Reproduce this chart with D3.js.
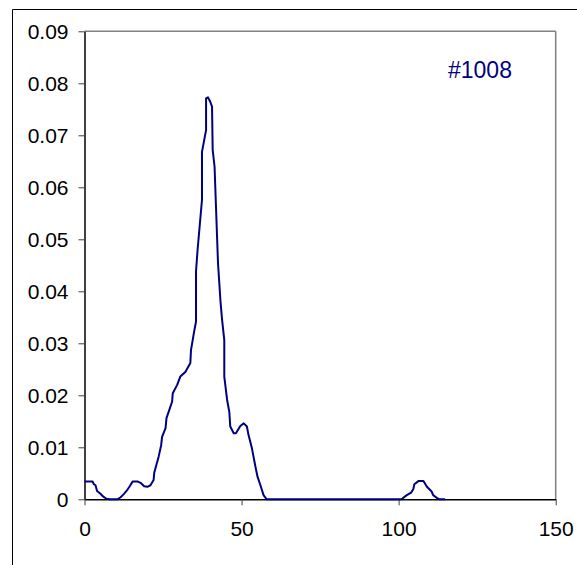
<!DOCTYPE html>
<html>
<head>
<meta charset="utf-8">
<script src="https://cdn.jsdelivr.net/npm/d3@7"></script>
<style>
  html, body { margin: 0; padding: 0; background: #fff; }
  svg { display: block; }
  text { font-family: "Liberation Sans", Arial, sans-serif; }
</style>
</head>
<body>
<svg id="chart" width="577" height="565"></svg>
<script>
// ---- data ----
const xValues = [0, 2.6, 3.0, 3.5, 4.0, 5.0, 6.0, 7.0, 8.0, 10.5, 11.5, 12.5, 13.5, 14.5, 15.3, 17.0, 18.0, 19.0, 20.0, 21.0,
  22.0, 22.2, 23.6, 24.4, 24.7, 25.8, 26.1, 27.0, 27.9, 28.1, 29.5, 30.5, 32.1, 33.7, 33.9, 34.8, 35.5, 35.5, 36.0, 37.4,
  37.4, 38.7, 38.7, 39.3, 40.0, 40.6, 40.8, 41.4, 42.5, 43.3, 43.8, 44.5, 44.5, 45.4, 46.1, 46.4, 47.5, 48.2, 49.6, 50.7,
  51.7, 52.2, 53.3, 54.4, 55.1, 56.0, 57.0, 58.0, 101.0, 101.5, 102.6, 104.0, 104.7, 105.0, 106.3, 107.9, 109.0, 110.5, 111.0, 112.3,
  113.0, 114.8];
const yValues = [0.0034, 0.0034, 0.0029, 0.0027, 0.0016, 0.0011, 0.0005, 0.0001, 0.0000, 0.0000, 0.0004, 0.0010, 0.0017, 0.0026, 0.0034, 0.0034, 0.0031, 0.0025, 0.0024, 0.0027,
  0.0037, 0.0051, 0.0082, 0.0104, 0.0120, 0.0137, 0.0156, 0.0172, 0.0188, 0.0204, 0.0220, 0.0236, 0.0245, 0.0262, 0.0287, 0.0319, 0.0342, 0.0438, 0.0480, 0.0576,
  0.0668, 0.0710, 0.0771, 0.0773, 0.0765, 0.0755, 0.0672, 0.0640, 0.0454, 0.0380, 0.0345, 0.0306, 0.0236, 0.0191, 0.0168, 0.0140, 0.0127, 0.0127, 0.0141, 0.0146,
  0.0140, 0.0124, 0.0098, 0.0063, 0.0043, 0.0027, 0.0008, 0.0000, 0.0000, 0.0003, 0.0008, 0.0013, 0.0020, 0.0029, 0.0035, 0.0035, 0.0024, 0.0015, 0.0008, 0.0002,
  0.0000, 0.0000];
const xTicks = [0, 50, 100, 150];
const yTicks = [0, 0.01, 0.02, 0.03, 0.04, 0.05, 0.06, 0.07, 0.08, 0.09];
const yTickLabels = ["0", "0.01", "0.02", "0.03", "0.04", "0.05", "0.06", "0.07", "0.08", "0.09"];
const seriesLabel = "#1008";

// ---- layout ----
const svg = d3.select("#chart");
const plotLeft = 84.5, plotRight = 555.7, plotTop = 31.3, plotBottom = 499.3;
const lineColor = "#000080";

const x = d3.scaleLinear().domain([0, 150]).range([plotLeft, plotRight]);
const y = d3.scaleLinear().domain([0, 0.09]).range([plotBottom, plotTop]);

// outer chart frame (clipped at right/bottom)
svg.append("line").attr("x1", 12.5).attr("x2", 577).attr("y1", 9.5).attr("y2", 9.5)
  .attr("stroke", "#000").attr("stroke-width", 1);
svg.append("line").attr("x1", 12.5).attr("x2", 12.5).attr("y1", 9.5).attr("y2", 565)
  .attr("stroke", "#000").attr("stroke-width", 1);

// plot-area border (top & right gray)
svg.append("line").attr("x1", plotLeft).attr("x2", plotRight).attr("y1", plotTop).attr("y2", plotTop)
  .attr("stroke", "#808080").attr("stroke-width", 1.5);
svg.append("line").attr("x1", plotRight).attr("x2", plotRight).attr("y1", plotTop).attr("y2", plotBottom)
  .attr("stroke", "#808080").attr("stroke-width", 1.5);

// axes
const yAxis = d3.axisLeft(y).tickValues(yTicks)
  .tickFormat((d, i) => yTickLabels[i]).tickSize(6).tickPadding(10).tickSizeOuter(0);
const gy = svg.append("g").attr("transform", `translate(${plotLeft},0)`).call(yAxis);

const xAxis = d3.axisBottom(x).tickValues(xTicks).tickFormat(d3.format("d"))
  .tickSize(6).tickPadding(16).tickSizeOuter(0);
const gx = svg.append("g").attr("transform", `translate(0,${plotBottom})`).call(xAxis);

[gx, gy].forEach(g => {
  g.select(".domain").attr("stroke", "#000").attr("stroke-width", 1.5);
  g.selectAll(".tick line").attr("stroke", "#404040").attr("stroke-width", 1);
  g.selectAll(".tick text").attr("fill", "#000")
    .style("font-family", '"Liberation Sans", Arial, sans-serif').style("font-size", "21px");
});

// series line
const pts = xValues.map((v, i) => [v, yValues[i]]);
const line = d3.line().x(d => x(d[0])).y(d => y(d[1]));
svg.append("path").datum(pts).attr("d", line)
  .attr("fill", "none").attr("stroke", lineColor).attr("stroke-width", 2)
  .attr("stroke-linejoin", "round");

// label
svg.append("text").attr("x", 448).attr("y", 78).attr("fill", lineColor)
  .style("font-size", "23px").text(seriesLabel);
</script>
</body>
</html>
